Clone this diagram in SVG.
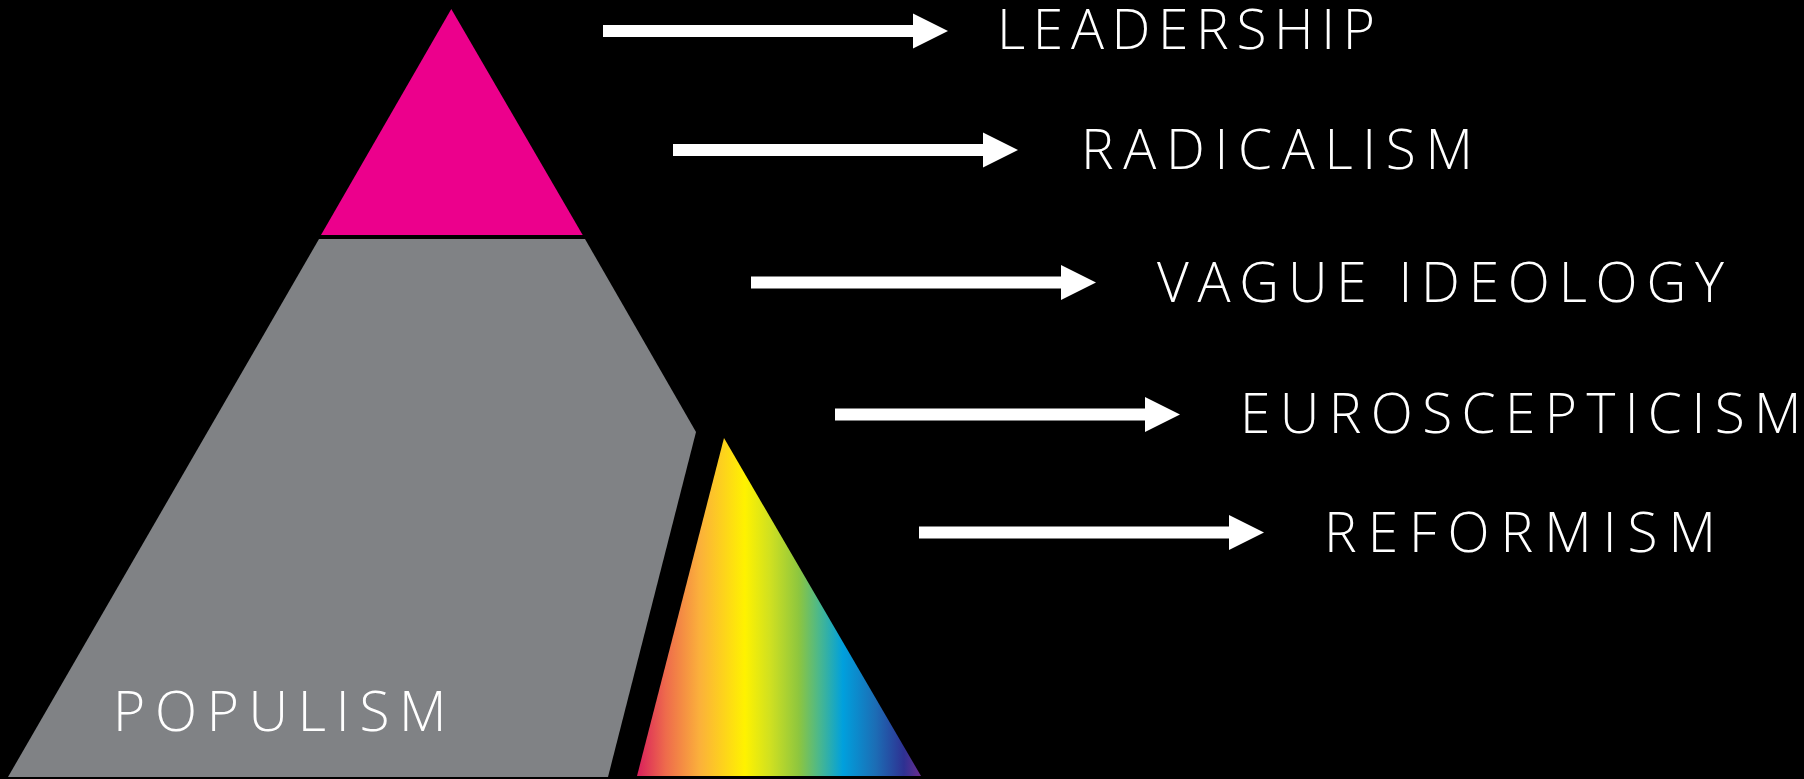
<svg xmlns="http://www.w3.org/2000/svg" width="1804" height="779" viewBox="0 0 1804 779">
  <defs>
    <linearGradient id="spectrum" gradientUnits="userSpaceOnUse" x1="637" y1="0" x2="921" y2="0">
      <stop offset="0" stop-color="#d91f5c"/>
      <stop offset="0.10" stop-color="#ee6a4c"/>
      <stop offset="0.22" stop-color="#fbb03b"/>
      <stop offset="0.38" stop-color="#fff200"/>
      <stop offset="0.47" stop-color="#cfe021"/>
      <stop offset="0.57" stop-color="#8dc63f"/>
      <stop offset="0.64" stop-color="#4cb88b"/>
      <stop offset="0.725" stop-color="#00a0dd"/>
      <stop offset="0.84" stop-color="#1c6db5"/>
      <stop offset="0.94" stop-color="#2e3192"/>
      <stop offset="1" stop-color="#6a2c8e"/>
    </linearGradient>
    <marker id="head" markerUnits="userSpaceOnUse" markerWidth="35" markerHeight="35" refX="0" refY="17.5" orient="auto" overflow="visible">
      <path d="M0,0 L35,17.5 L0,35 Z" fill="#ffffff"/>
    </marker>
  </defs>
  <style>
    .arrow { stroke: #ffffff; stroke-width: 12; fill: none; marker-end: url(#head); }
    .label { font-family: "Open Sans", "Liberation Sans", sans-serif; font-size: 55px; fill: #ffffff; font-weight: 300; }
  </style>
  <rect x="0" y="0" width="1804" height="779" fill="#000000"/>

  <g id="leadership-tier">
    <polygon points="451.3,9 321,235 582.7,235" fill="#ec008c"/>
  </g>
  <g id="populism">
    <polygon points="319,239 585,239 696,432 608,777 8,777" fill="#808285"/>
    <text class="label" x="113" y="730.7" textLength="333.6" lengthAdjust="spacing">POPULISM</text>
  </g>
  <g id="spectrum-prism">
    <polygon points="724,438 637,776 921,776" fill="url(#spectrum)"/>
  </g>

  <g id="connectors">
    <line class="arrow" x1="603" y1="31" x2="913" y2="31"/>
    <line class="arrow" x1="673" y1="150" x2="983" y2="150"/>
    <line class="arrow" x1="751" y1="282.5" x2="1061" y2="282.5"/>
    <line class="arrow" x1="835" y1="414.5" x2="1145" y2="414.5"/>
    <line class="arrow" x1="919" y1="532.5" x2="1229" y2="532.5"/>
  </g>

  <g id="leadership">
    <text class="label" x="997" y="49.3" textLength="378" lengthAdjust="spacing">LEADERSHIP</text>
  </g>
  <g id="radicalism">
    <text class="label" x="1081" y="169" textLength="392" lengthAdjust="spacing">RADICALISM</text>
  </g>
  <g id="vague-ideology">
    <text class="label" x="1157" y="301.7" textLength="567" lengthAdjust="spacing">VAGUE IDEOLOGY</text>
  </g>
  <g id="euroscepticism">
    <text class="label" x="1240" y="432.7" textLength="561.5" lengthAdjust="spacing">EUROSCEPTICISM</text>
  </g>
  <g id="reformism">
    <text class="label" x="1324" y="551.7" textLength="392" lengthAdjust="spacing">REFORMISM</text>
  </g>
</svg>
